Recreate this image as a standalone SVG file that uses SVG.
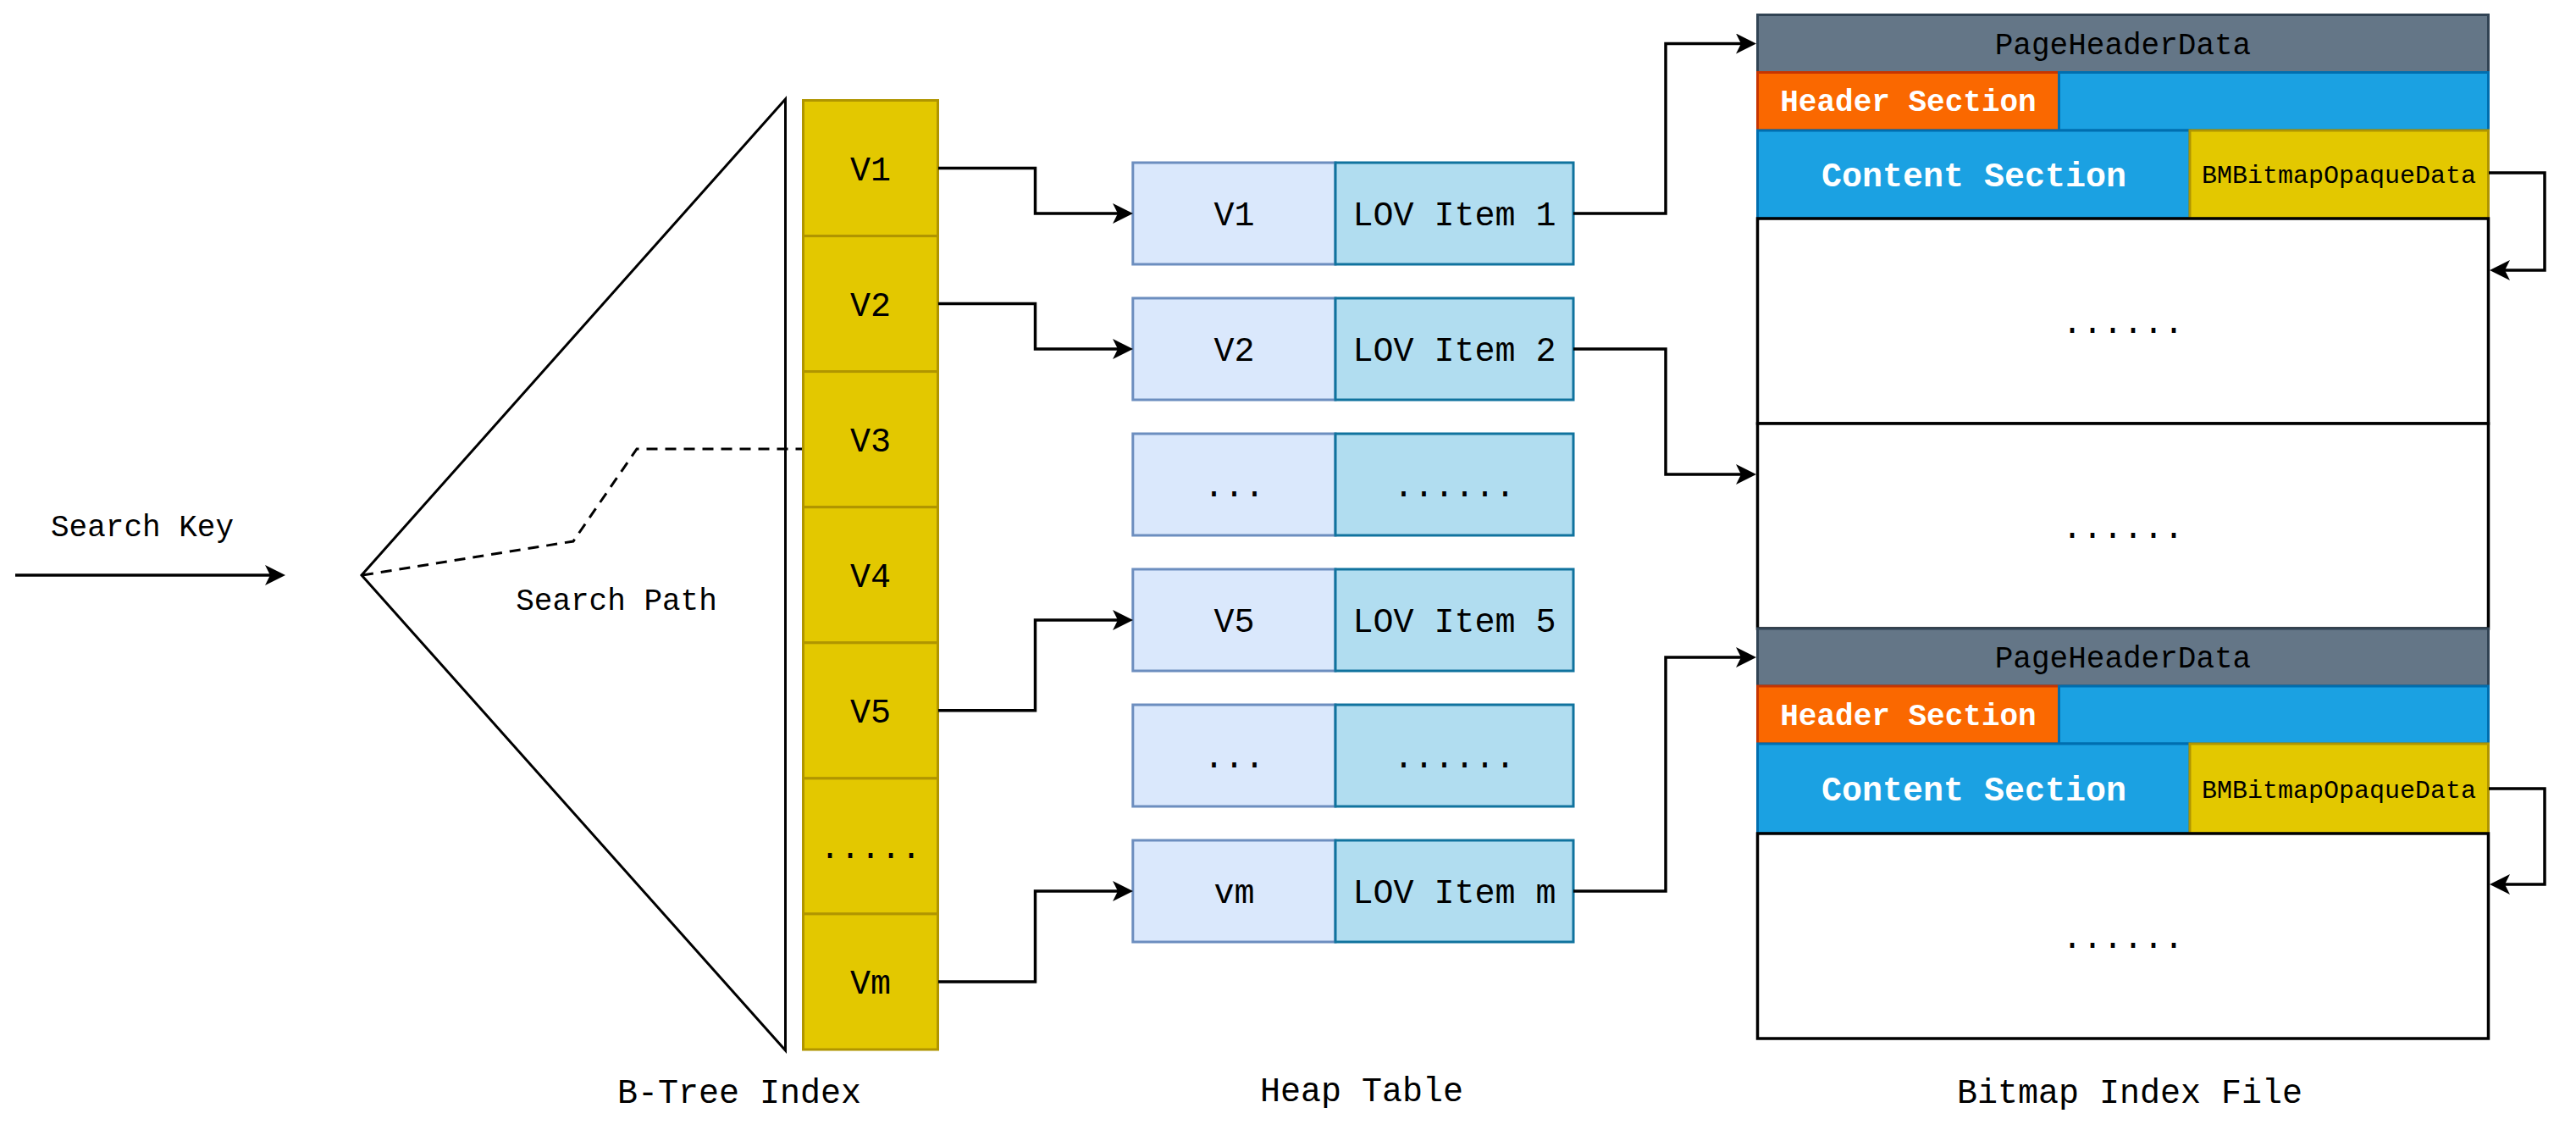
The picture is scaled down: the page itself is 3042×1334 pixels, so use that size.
<svg xmlns="http://www.w3.org/2000/svg" width="3042" height="1334" viewBox="0 0 3042 1334">
<defs>
<style>
text{font-family:"Liberation Mono","Courier New",monospace;text-anchor:middle;fill:#000}
.f36{font-size:36px}
.f40{font-size:40px}
.f30{font-size:30px}
.w{fill:#fff;font-weight:bold}
.ycell{fill:#e3c800;stroke:#b09500;stroke-width:3}
.hl{fill:#dae8fc;stroke:#6c8ebf;stroke-width:3}
.hr{fill:#b1ddf0;stroke:#10739e;stroke-width:3}
.phd{fill:#647687;stroke:#314354;stroke-width:3}
.hs{fill:#fa6800;stroke:#c73500;stroke-width:3}
.bl{fill:#1ba1e2;stroke:#006eaf;stroke-width:3}
.box{fill:#fff;stroke:#000;stroke-width:3.5}
.conn{fill:none;stroke:#000;stroke-width:3.5}
.line{fill:none;stroke:#000;stroke-width:3}
</style>
<marker id="arr" viewBox="0 0 24 24" refX="18" refY="12" markerWidth="24" markerHeight="24" markerUnits="userSpaceOnUse" orient="auto">
<path d="M0,0 L24,12 L0,24 L6,12 Z" fill="#000"/>
</marker>
</defs>
<rect width="3042" height="1334" fill="#fff"/>

<g id="search-key">
<text class="f36" x="168" y="633">Search Key</text>
</g>

<g id="btree-triangle">
<polygon class="line" points="927.5,117 427,679 927.5,1240"/>
</g>

<g id="search-path">
<polyline fill="none" stroke="#000" stroke-width="3" stroke-dasharray="13 9" points="428,679 677,639 752,530 947,530"/>
<text class="f36" x="728" y="720">Search Path</text>
</g>

<g id="btree-leaf">
<rect class="ycell" x="948.5" y="118.5" width="159" height="160.1"/>
<rect class="ycell" x="948.5" y="278.6" width="159" height="160.1"/>
<rect class="ycell" x="948.5" y="438.6" width="159" height="160.1"/>
<rect class="ycell" x="948.5" y="598.7" width="159" height="160.1"/>
<rect class="ycell" x="948.5" y="758.8" width="159" height="160.1"/>
<rect class="ycell" x="948.5" y="918.9" width="159" height="160.1"/>
<rect class="ycell" x="948.5" y="1078.9" width="159" height="160.1"/>
<text class="f40" x="1028" y="212.5">V1</text>
<text class="f40" x="1028" y="372.6">V2</text>
<text class="f40" x="1028" y="532.7">V3</text>
<text class="f40" x="1028" y="692.8">V4</text>
<text class="f40" x="1028" y="852.8">V5</text>
<text class="f40" x="1028" y="1012.9">.....</text>
<text class="f40" x="1028" y="1173">Vm</text>
</g>

<g id="heap-row-1">
<rect class="hl" x="1337.8" y="192" width="239.2" height="120"/>
<rect class="hr" x="1577" y="192" width="281" height="120"/>
<text class="f40" x="1457.4" y="266">V1</text>
<text class="f40" x="1717.5" y="266">LOV Item 1</text>
</g>
<g id="heap-row-2">
<rect class="hl" x="1337.8" y="352" width="239.2" height="120"/>
<rect class="hr" x="1577" y="352" width="281" height="120"/>
<text class="f40" x="1457.4" y="426">V2</text>
<text class="f40" x="1717.5" y="426">LOV Item 2</text>
</g>
<g id="heap-row-3">
<rect class="hl" x="1337.8" y="512" width="239.2" height="120"/>
<rect class="hr" x="1577" y="512" width="281" height="120"/>
<text class="f40" x="1457.4" y="586">...</text>
<text class="f40" x="1717.5" y="586">......</text>
</g>
<g id="heap-row-4">
<rect class="hl" x="1337.8" y="672" width="239.2" height="120"/>
<rect class="hr" x="1577" y="672" width="281" height="120"/>
<text class="f40" x="1457.4" y="746">V5</text>
<text class="f40" x="1717.5" y="746">LOV Item 5</text>
</g>
<g id="heap-row-5">
<rect class="hl" x="1337.8" y="832" width="239.2" height="120"/>
<rect class="hr" x="1577" y="832" width="281" height="120"/>
<text class="f40" x="1457.4" y="906">...</text>
<text class="f40" x="1717.5" y="906">......</text>
</g>
<g id="heap-row-6">
<rect class="hl" x="1337.8" y="992" width="239.2" height="120"/>
<rect class="hr" x="1577" y="992" width="281" height="120"/>
<text class="f40" x="1457.4" y="1066">vm</text>
<text class="f40" x="1717.5" y="1066">LOV Item m</text>
</g>

<g id="bitmap-page-1">
<rect class="phd" x="2075.5" y="17.5" width="863" height="68"/>
<rect class="hs" x="2075.5" y="85.5" width="356" height="68.5"/>
<rect class="bl" x="2431.5" y="85.5" width="507" height="68.5"/>
<rect class="bl" x="2075.5" y="154" width="510.5" height="104"/>
<rect class="ycell" x="2586" y="154" width="352.5" height="104"/>
<text class="f36" x="2507" y="63.5">PageHeaderData</text>
<text class="f36 w" x="2253.5" y="131">Header Section</text>
<text class="f40 w" x="2331" y="220">Content Section</text>
<text class="f30" x="2762" y="216">BMBitmapOpaqueData</text>
<rect class="box" x="2075.5" y="258" width="863" height="242"/>
<text class="f40" x="2507" y="393">......</text>
<rect class="box" x="2075.5" y="500" width="863" height="242"/>
<text class="f40" x="2507" y="635">......</text>
</g>

<g id="bitmap-page-2">
<rect class="phd" x="2075.5" y="742" width="863" height="68"/>
<rect class="hs" x="2075.5" y="810" width="356" height="68"/>
<rect class="bl" x="2431.5" y="810" width="507" height="68"/>
<rect class="bl" x="2075.5" y="878" width="510.5" height="106"/>
<rect class="ycell" x="2586" y="878" width="352.5" height="106"/>
<text class="f36" x="2507" y="788">PageHeaderData</text>
<text class="f36 w" x="2253.5" y="855.5">Header Section</text>
<text class="f40 w" x="2331" y="945">Content Section</text>
<text class="f30" x="2762" y="942">BMBitmapOpaqueData</text>
<rect class="box" x="2075.5" y="984" width="863" height="242"/>
<text class="f40" x="2507" y="1119">......</text>
</g>

<g id="labels">
<text class="f40" x="873" y="1302">B-Tree Index</text>
<text class="f40" x="1608" y="1300">Heap Table</text>
<text class="f40" x="2515" y="1302">Bitmap Index File</text>
</g>

<g id="connectors">
<path class="conn" d="M18,679 H331" marker-end="url(#arr)"/>
<path class="conn" d="M1108,198.5 H1222.5 V252 H1332" marker-end="url(#arr)"/>
<path class="conn" d="M1108,358.6 H1222.5 V412 H1332" marker-end="url(#arr)"/>
<path class="conn" d="M1108,838.8 H1222.5 V732 H1332" marker-end="url(#arr)"/>
<path class="conn" d="M1108,1159 H1222.5 V1052 H1332" marker-end="url(#arr)"/>
<path class="conn" d="M1858,252 H1967 V51.5 H2068" marker-end="url(#arr)"/>
<path class="conn" d="M1858,412 H1967 V560 H2068" marker-end="url(#arr)"/>
<path class="conn" d="M1858,1052 H1967 V776 H2068" marker-end="url(#arr)"/>
<path class="conn" d="M2939,204 H3005 V319 H2946" marker-end="url(#arr)"/>
<path class="conn" d="M2939,931 H3005 V1044 H2946" marker-end="url(#arr)"/>
</g>
</svg>
